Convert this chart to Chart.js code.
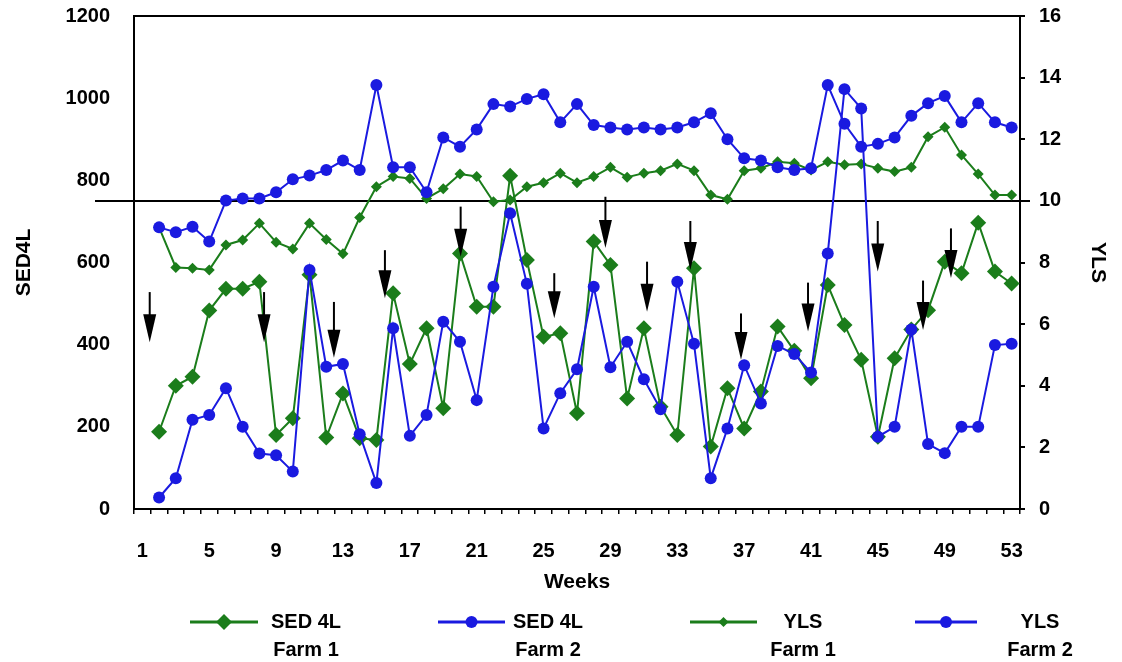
<!DOCTYPE html>
<html>
<head>
<meta charset="utf-8">
<script src="https://cdn.jsdelivr.net/npm/chart.js"></script>
<style>
  html, body { margin: 0; padding: 0; background: #ffffff; }
  #wrap { width: 1122px; height: 662px; }
</style>
</head>
<body>
<div id="wrap"><canvas id="c" width="1122" height="662"></canvas></div>
<script>
// ---------------- DATA ----------------
const weeks = [1,2,3,4,5,6,7,8,9,10,11,12,13,14,15,16,17,18,19,20,21,22,23,24,25,26,27,28,29,30,31,32,33,34,35,36,37,38,39,40,41,42,43,44,45,46,47,48,49,50,51,52,53];
const weekTicks = [1,5,9,13,17,21,25,29,33,37,41,45,49,53];

const sedFarm1 = [null,188,300,322,483,536,536,553,180,221,570,174,281,172,168,525,353,440,245,622,492,492,811,606,419,428,233,651,594,269,440,249,180,586,152,294,196,286,444,385,318,545,448,363,176,367,437,484,602,574,697,578,549];
const sedFarm2 = [null,28,75,217,229,294,200,135,131,91,582,346,353,182,63,440,178,229,456,407,265,541,720,548,196,282,340,541,345,407,316,243,553,402,75,196,350,257,397,377,332,622,1022,975,176,200,437,158,136,200,200,399,402];
const ylsFarm1 = [null,9.14,7.84,7.81,7.76,8.57,8.73,9.27,8.66,8.44,9.27,8.75,8.28,9.46,10.46,10.79,10.73,10.08,10.39,10.87,10.79,9.97,10.03,10.46,10.59,10.90,10.59,10.79,11.09,10.77,10.90,10.98,11.20,10.98,10.19,10.05,10.98,11.06,11.27,11.22,11.0,11.27,11.17,11.2,11.06,10.95,11.09,12.08,12.39,11.49,10.87,10.19,10.19];
const ylsFarm2 = [null,9.14,8.98,9.16,8.68,10.01,10.08,10.08,10.28,10.70,10.82,11.0,11.31,11.0,13.76,11.09,11.09,10.28,12.06,11.76,12.32,13.14,13.06,13.31,13.46,12.55,13.14,12.46,12.38,12.32,12.38,12.32,12.38,12.55,12.84,12.0,11.38,11.31,11.09,11.0,11.06,13.76,12.50,11.76,11.85,12.06,12.76,13.17,13.40,12.55,13.17,12.55,12.38];

// arrows: week position, top and tip (SED4L units)
const arrowWeek = [1.44,8.28,12.46,15.51,20.04,25.64,28.7,31.19,33.78,36.81,40.82,44.99,47.7,49.37];
const arrowTop  = [528,528,504,630,736,574,760,602,701,476,551,701,556,683];
const arrowTip  = [406,406,368,513,614,464,635,480,582,363,432,578,436,562];

const ylsThreshold = 10;
const seriesNames = [['SED 4L','Farm 1'],['SED 4L','Farm 2'],['YLS','Farm 1'],['YLS','Farm 2']];

// ---------------- STYLE ----------------
const GREEN = '#1b7d1b';
const BLUE = '#1a1ae0';
const FONT = "'Liberation Sans', Arial, Helvetica, sans-serif";
Chart.defaults.font.family = FONT;
Chart.defaults.font.weight = 'bold';
Chart.defaults.color = '#000';

const legendLayout = [
  {x0: 190, x1: 258, tx: 306, r: 8, shape: 'diamond'},
  {x0: 438, x1: 505, tx: 548, r: 6, shape: 'circle'},
  {x0: 690, x1: 757, tx: 803, r: 5, shape: 'diamond'},
  {x0: 915, x1: 977, tx: 1040, r: 6, shape: 'circle'}
];

function drawMarker(ctx, shape, x, y, r, color) {
  ctx.fillStyle = color;
  ctx.beginPath();
  if (shape === 'diamond') {
    ctx.moveTo(x, y - r); ctx.lineTo(x + r, y); ctx.lineTo(x, y + r); ctx.lineTo(x - r, y); ctx.closePath();
  } else {
    ctx.arc(x, y, r, 0, Math.PI * 2);
  }
  ctx.fill();
}

const overlay = {
  id: 'overlay',
  beforeDatasetsDraw(chart) {
    const ctx = chart.ctx, a = chart.chartArea;
    const yy = chart.scales.y2.getPixelForValue(ylsThreshold);
    ctx.save();
    ctx.strokeStyle = '#000';
    ctx.lineWidth = 2;
    ctx.beginPath();
    ctx.moveTo(a.left - 39, yy); ctx.lineTo(a.right + 10, yy);
    ctx.moveTo(a.left - 1, a.top); ctx.lineTo(a.right + 1, a.top);
    ctx.stroke();
    ctx.restore();
  },
  afterDatasetsDraw(chart) {
    const ctx = chart.ctx, xs = chart.scales.x, ys = chart.scales.y;
    ctx.save();
    ctx.strokeStyle = '#000';
    ctx.fillStyle = '#000';
    for (let i = 0; i < arrowWeek.length; i++) {
      const x = xs.getPixelForValue(arrowWeek[i] - 1);
      const y0 = ys.getPixelForValue(arrowTop[i]);
      const y1 = ys.getPixelForValue(arrowTip[i]);
      const head = Math.min(28, (y1 - y0) * 0.6);
      ctx.lineWidth = 2;
      ctx.beginPath(); ctx.moveTo(x, y0); ctx.lineTo(x, y1 - head + 1); ctx.stroke();
      ctx.beginPath();
      ctx.moveTo(x - 6.5, y1 - head); ctx.lineTo(x + 6.5, y1 - head); ctx.lineTo(x, y1); ctx.closePath();
      ctx.fill();
    }
    ctx.restore();
  },
  afterDraw(chart) {
    const ctx = chart.ctx;
    const row1 = 622, row2 = 650;
    ctx.save();
    legendLayout.forEach((it, i) => {
      const ds = chart.data.datasets[i];
      ctx.strokeStyle = ds.borderColor;
      ctx.lineWidth = 3;
      ctx.beginPath(); ctx.moveTo(it.x0, row1); ctx.lineTo(it.x1, row1); ctx.stroke();
      drawMarker(ctx, it.shape, (it.x0 + it.x1) / 2, row1, it.r, ds.borderColor);
      ctx.fillStyle = '#000';
      ctx.font = "bold 20px " + FONT;
      ctx.textAlign = 'center';
      ctx.textBaseline = 'middle';
      ctx.fillText(seriesNames[i][0], it.tx, row1);
      ctx.fillText(seriesNames[i][1], it.tx, row2);
    });
    ctx.restore();
  }
};

const ctx = document.getElementById('c').getContext('2d');
new Chart(ctx, {
  type: 'line',
  data: {
    labels: weeks,
    datasets: [
      {label: 'SED 4L Farm 1', data: sedFarm1, yAxisID: 'y', borderColor: GREEN, backgroundColor: GREEN,
       pointStyle: 'rectRot', pointRadius: 8, pointBorderWidth: 0, borderWidth: 2, order: 2},
      {label: 'SED 4L Farm 2', data: sedFarm2, yAxisID: 'y', borderColor: BLUE, backgroundColor: BLUE,
       pointStyle: 'circle', pointRadius: 6, pointBorderWidth: 0, borderWidth: 2, order: 0},
      {label: 'YLS Farm 1', data: ylsFarm1, yAxisID: 'y2', borderColor: GREEN, backgroundColor: GREEN,
       pointStyle: 'rectRot', pointRadius: 5.5, pointBorderWidth: 0, borderWidth: 2, order: 3},
      {label: 'YLS Farm 2', data: ylsFarm2, yAxisID: 'y2', borderColor: BLUE, backgroundColor: BLUE,
       pointStyle: 'circle', pointRadius: 6, pointBorderWidth: 0, borderWidth: 2, order: 1}
    ]
  },
  options: {
    responsive: false,
    animation: false,
    devicePixelRatio: 1,
    elements: { line: { tension: 0 } },
    layout: { padding: { top: 16, bottom: 63, left: 0, right: 0 } },
    plugins: { legend: { display: false }, tooltip: { enabled: false } },
    scales: {
      x: {
        type: 'category',
        offset: true,
        grid: { offset: true, drawOnChartArea: false, drawTicks: true, tickLength: 5, color: '#000', lineWidth: 1.5 },
        border: { display: true, color: '#000', width: 2 },
        ticks: {
          autoSkip: false, maxRotation: 0, minRotation: 0, padding: 25,
          font: { size: 20, weight: 'bold' }, color: '#000',
          callback: function(v, i) { const w = weeks[i]; return weekTicks.includes(w) ? String(w) : ''; }
        },
        title: { display: true, text: 'Weeks', font: { size: 21, weight: 'bold' }, color: '#000', padding: { top: 0, bottom: 4 } },
        afterFit: s => { s.height = 90; }
      },
      y: {
        position: 'left', min: 0, max: 1200,
        grid: { drawOnChartArea: false, drawTicks: false },
        border: { display: true, color: '#000', width: 2 },
        ticks: { stepSize: 200, padding: 24, font: { size: 20, weight: 'bold' }, color: '#000',
                 callback: v => String(v) },
        title: { display: true, text: 'SED4L', font: { size: 21, weight: 'bold' }, color: '#000', padding: { top: 12, bottom: 0 } },
        afterFit: s => { s.width = 134; s.paddingTop = 8; s.paddingBottom = 8; }
      },
      y2: {
        position: 'right', min: 0, max: 16,
        grid: { drawOnChartArea: false, drawTicks: true, tickLength: 5, color: '#000', lineWidth: 2 },
        border: { display: true, color: '#000', width: 2 },
        ticks: { stepSize: 2, padding: 14, font: { size: 20, weight: 'bold' }, color: '#000',
                 callback: v => String(v) },
        title: { display: true, text: 'YLS', font: { size: 21, weight: 'bold' }, color: '#000', padding: { top: 12, bottom: 0 } },
        afterFit: s => { s.width = 102; s.paddingTop = 8; s.paddingBottom = 8; }
      }
    }
  },
  plugins: [overlay]
});
</script>
</body>
</html>
